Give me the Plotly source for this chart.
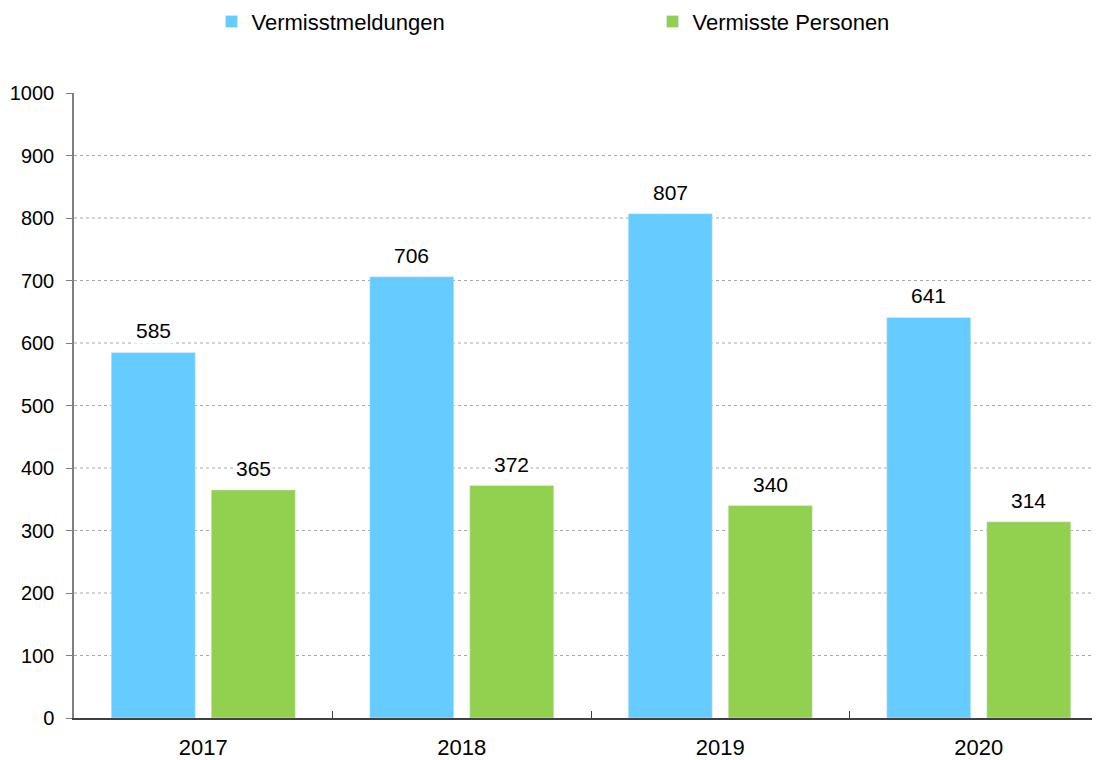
import plotly.graph_objects as go

years = ["2017", "2018", "2019", "2020"]
meldungen = [585, 706, 807, 641]
personen = [365, 372, 340, 314]
series_names = ["Vermisstmeldungen", "Vermisste Personen"]
y_ticks = [0, 100, 200, 300, 400, 500, 600, 700, 800, 900, 1000]

BLUE = "#66CCFF"
GREEN = "#92D050"
FONT = "Liberation Sans, Arial, sans-serif"
BARGAP = 0.226
BARGROUPGAP = 0.16

fig = go.Figure()
fig.add_trace(go.Bar(x=years, y=meldungen, name=series_names[0], marker_color=BLUE))
fig.add_trace(go.Bar(x=years, y=personen, name=series_names[1], marker_color=GREEN))

# value labels with white background (interrupt gridlines)
slot = (1 - BARGAP) / 2
for i, (a, b) in enumerate(zip(meldungen, personen)):
    for off, v in ((-slot / 2, a), (slot / 2, b)):
        fig.add_annotation(x=i + off, y=v, xref="x", yref="y", text=str(v),
                           showarrow=False, yanchor="bottom", yshift=8,
                           bgcolor="white", borderpad=1,
                           font=dict(family=FONT, size=21, color="black"))

# dotted gridlines (none at the top value)
for t in y_ticks[1:-1]:
    fig.add_shape(type="line", xref="paper", yref="y", x0=0, x1=1, y0=t, y1=t,
                  line=dict(color="#a8a8a8", width=1, dash="dot"), layer="below")

# page body has an 8px margin, so the figure is sized/offset to compensate
fig.update_layout(
    width=1092, height=752,
    margin=dict(l=66, r=0, t=85, b=42, autoexpand=False),
    plot_bgcolor="white", paper_bgcolor="white",
    barmode="group", bargap=BARGAP, bargroupgap=BARGROUPGAP,
    font=dict(family=FONT, size=20, color="black"),
    showlegend=True,
    legend=dict(orientation="h", x=0.134, xanchor="left", y=1.114, yref="paper",
                yanchor="middle", entrywidth=396, entrywidthmode="pixels",
                font=dict(family=FONT, size=22, color="black"), itemclick=False),
)
fig.update_xaxes(type="category", range=[-0.5, 3.469], showline=True,
                 linecolor="#404040", linewidth=1.5, ticks="inside", ticklen=7,
                 tickcolor="#404040", tickson="boundaries", showgrid=False,
                 ticklabelstandoff=9, tickfont=dict(size=22), automargin=False)
fig.update_yaxes(range=[0, 1000], tickvals=y_ticks, showline=True,
                 linecolor="#808080", linewidth=1.5, ticks="outside", ticklen=6,
                 tickcolor="#808080", showgrid=False, zeroline=False,
                 ticklabelstandoff=8, tickfont=dict(size=20), automargin=False)

fig.write_html("out.html")
